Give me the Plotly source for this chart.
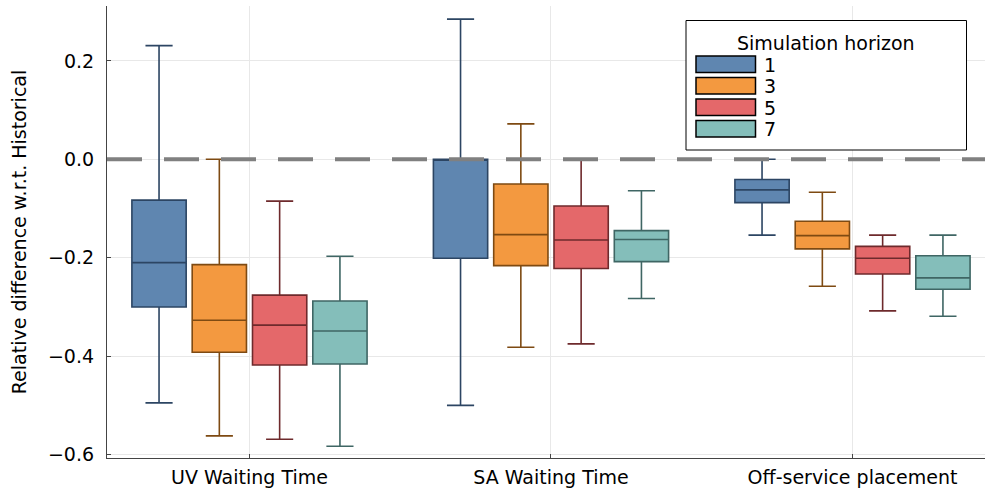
import plotly.graph_objects as go

# Categories and group labels
categories = ["UV Waiting Time", "SA Waiting Time", "Off-service placement"]
horizons = ["1", "3", "5", "7"]

# Box statistics per simulation horizon, one value per category
lower_h1 = [-0.495, -0.500, -0.154]
q1_h1 = [-0.300, -0.201, -0.088]
med_h1 = [-0.210, -0.001, -0.062]
q3_h1 = [-0.083, 0.000, -0.041]
upper_h1 = [0.231, 0.285, 0.000]

lower_h3 = [-0.562, -0.382, -0.258]
q1_h3 = [-0.392, -0.216, -0.182]
med_h3 = [-0.327, -0.153, -0.155]
q3_h3 = [-0.214, -0.050, -0.126]
upper_h3 = [0.000, 0.072, -0.067]

lower_h5 = [-0.569, -0.375, -0.308]
q1_h5 = [-0.418, -0.222, -0.233]
med_h5 = [-0.337, -0.164, -0.201]
q3_h5 = [-0.276, -0.095, -0.177]
upper_h5 = [-0.085, 0.000, -0.154]

lower_h7 = [-0.583, -0.283, -0.319]
q1_h7 = [-0.416, -0.208, -0.264]
med_h7 = [-0.349, -0.163, -0.241]
q3_h7 = [-0.288, -0.145, -0.196]
upper_h7 = [-0.197, -0.064, -0.154]

y_ticks = [-0.6, -0.4, -0.2, 0.0, 0.2]

stats = [
    (lower_h1, q1_h1, med_h1, q3_h1, upper_h1),
    (lower_h3, q1_h3, med_h3, q3_h3, upper_h3),
    (lower_h5, q1_h5, med_h5, q3_h5, upper_h5),
    (lower_h7, q1_h7, med_h7, q3_h7, upper_h7),
]

fill_colors = ["#5F86B0", "#F39940", "#E4686A", "#84BEBA"]
line_colors = ["#2C4563", "#7E4A12", "#6E2A2C", "#3F6664"]

FONT = "DejaVu Sans"
FS = 19
W, H = 985, 491
L, R, T, B = 107, 0, 6, 33
PW, PH = W - L - R, H - T - B


def px_x(x):
    return (x - L) / PW


def px_y(y):
    return 1 - (y - T) / PH


fig = go.Figure()
for name, (lo, q1, md, q3, up), fc, lc in zip(horizons, stats, fill_colors, line_colors):
    fig.add_trace(go.Box(
        name=name,
        x=categories,
        lowerfence=lo,
        q1=q1,
        median=md,
        q3=q3,
        upperfence=up,
        fillcolor=fc,
        line=dict(color=lc, width=1.6),
        whiskerwidth=0.5,
        boxpoints=False,
        showlegend=False,
    ))

shapes = [
    # reference line at zero
    dict(type="line", xref="paper", yref="y", x0=0, x1=1, y0=0, y1=0,
         line=dict(color="#808080", width=4, dash="35px,22px"), layer="above"),
    # legend frame
    dict(type="rect", xref="paper", yref="paper",
         x0=px_x(686), x1=px_x(966.5), y0=px_y(150), y1=px_y(20.5),
         line=dict(color="black", width=1), fillcolor="white", layer="above"),
]
annotations = [
    dict(text="Simulation horizon", xref="paper", yref="paper",
         x=px_x(826), y=px_y(43), showarrow=False, xanchor="center", yanchor="middle",
         font=dict(family=FONT, size=FS, color="black")),
]
row_top = [56, 77.5, 99, 120.5]
for name, fc, top in zip(horizons, fill_colors, row_top):
    shapes.append(dict(type="rect", xref="paper", yref="paper",
                       x0=px_x(696), x1=px_x(755.5), y0=px_y(top + 16.5), y1=px_y(top),
                       line=dict(color="black", width=1.5), fillcolor=fc, layer="above"))
    annotations.append(dict(text=name, xref="paper", yref="paper",
                            x=px_x(762), y=px_y(top + 8.5), showarrow=False,
                            xanchor="left", yanchor="middle",
                            font=dict(family=FONT, size=FS, color="black")))

fig.update_layout(
    width=W, height=H,
    margin=dict(l=L, r=R, t=T, b=B, pad=0),
    paper_bgcolor="white", plot_bgcolor="white",
    boxmode="group", boxgap=0.2, boxgroupgap=0.1,
    font=dict(family=FONT, size=FS, color="black"),
    shapes=shapes, annotations=annotations,
    showlegend=False,
)
fig.update_xaxes(
    type="category", categoryorder="array", categoryarray=categories,
    range=[-0.4726, 2.4395],
    showgrid=True, gridcolor="#E8E8E8", gridwidth=1,
    showline=True, linecolor="#444444", linewidth=1.2, mirror=False,
    ticks="inside", ticklen=4, tickcolor="#444444",
    ticklabelstandoff=2,
    tickfont=dict(family=FONT, size=FS, color="black"),
    zeroline=False,
)
fig.update_yaxes(
    range=[-0.607, 0.3116],
    tickvals=y_ticks, tickformat=".1f",
    showgrid=True, gridcolor="#E8E8E8", gridwidth=1,
    showline=True, linecolor="#444444", linewidth=1.2,
    ticks="inside", ticklen=4, tickcolor="#444444",
    ticklabelstandoff=8,
    tickfont=dict(family=FONT, size=FS, color="black"),
    title=dict(text="Relative difference w.r.t. Historical",
               font=dict(family=FONT, size=FS, color="black"), standoff=16),
    zeroline=False,
)

fig.write_html("out.html")
